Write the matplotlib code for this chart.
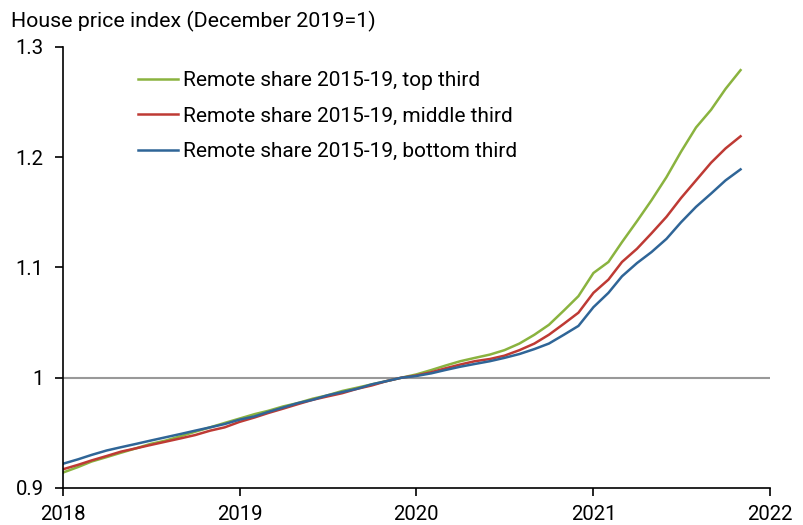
import matplotlib
matplotlib.use("Agg")
import matplotlib.pyplot as plt
import matplotlib.dates as mdates
import pandas as pd

plt.rcParams['font.family'] = ['Roboto', 'DejaVu Sans']

# monthly index, Jan 2018 - Nov 2021
months = pd.date_range('2018-01-01', '2021-11-01', freq='MS')

top_third = [
    0.914, 0.919, 0.924, 0.928, 0.932, 0.936, 0.940, 0.943, 0.947, 0.951, 0.955, 0.959,
    0.963, 0.967, 0.970, 0.974, 0.977, 0.981, 0.984, 0.988, 0.991, 0.994, 0.997, 1.000,
    1.003, 1.007, 1.011, 1.015, 1.018, 1.021, 1.025, 1.031, 1.039, 1.048, 1.061, 1.074,
    1.095, 1.105, 1.123, 1.142, 1.161, 1.182, 1.205, 1.227, 1.243, 1.262, 1.279,
]
middle_third = [
    0.917, 0.921, 0.925, 0.929, 0.933, 0.936, 0.939, 0.942, 0.945, 0.948, 0.952, 0.955,
    0.960, 0.964, 0.968, 0.972, 0.976, 0.980, 0.983, 0.986, 0.990, 0.993, 0.997, 1.000,
    1.002, 1.005, 1.0085, 1.012, 1.015, 1.017, 1.020, 1.025, 1.031, 1.039, 1.049, 1.059,
    1.077, 1.089, 1.105, 1.117, 1.131, 1.146, 1.163, 1.179, 1.195, 1.208, 1.219,
]
bottom_third = [
    0.922, 0.926, 0.930, 0.934, 0.937, 0.940, 0.943, 0.946, 0.949, 0.952, 0.955, 0.958,
    0.962, 0.965, 0.969, 0.973, 0.977, 0.980, 0.984, 0.987, 0.990, 0.994, 0.997, 1.000,
    1.0016, 1.004, 1.007, 1.010, 1.0125, 1.015, 1.018, 1.0215, 1.026, 1.031, 1.039, 1.047,
    1.064, 1.077, 1.092, 1.104, 1.114, 1.126, 1.141, 1.155, 1.167, 1.179, 1.189,
]

series = [
    ("Remote share 2015-19, top third", top_third, "#8AB33F"),
    ("Remote share 2015-19, middle third", middle_third, "#BE3A34"),
    ("Remote share 2015-19, bottom third", bottom_third, "#2F6597"),
]

fig = plt.figure(figsize=(8.04, 5.25), dpi=100)
ax = fig.add_axes([0.0784, 0.0705, 0.8794, 0.84])

ax.axhline(1.0, color="#999999", lw=1.5, zorder=1)
for label, vals, col in series:
    ax.plot(months, vals, color=col, lw=1.8, label=label, zorder=2)

ax.set_xlim(pd.Timestamp('2018-01-01'), pd.Timestamp('2022-01-01'))
ax.set_ylim(0.9, 1.3)
ax.xaxis.set_major_locator(mdates.YearLocator())
ax.xaxis.set_major_formatter(mdates.DateFormatter('%Y'))
ax.set_yticks([0.9, 1.0, 1.1, 1.2, 1.3])
ax.set_yticklabels(["0.9", "1", "1.1", "1.2", "1.3"])

for s in ["top", "right"]:
    ax.spines[s].set_visible(False)
for s in ["left", "bottom"]:
    ax.spines[s].set_linewidth(1.2)
ax.tick_params(axis="both", labelsize=14.7, width=1.2, length=6, direction="out")
ax.tick_params(axis="y", pad=8)
ax.tick_params(axis="x", pad=6)
for lab in ax.get_xticklabels():
    lab.set_clip_on(False)

fig.text(0.014, 0.96, "House price index (December 2019=1)", fontsize=15.4, va="center", ha="left")

ax.legend(loc="upper left", bbox_to_anchor=(0.106, 0.945), frameon=False, fontsize=15,
          handlelength=1.9, handletextpad=0.25, labelspacing=0.79, borderpad=0, borderaxespad=0)

fig.savefig("out.png", dpi=100)
